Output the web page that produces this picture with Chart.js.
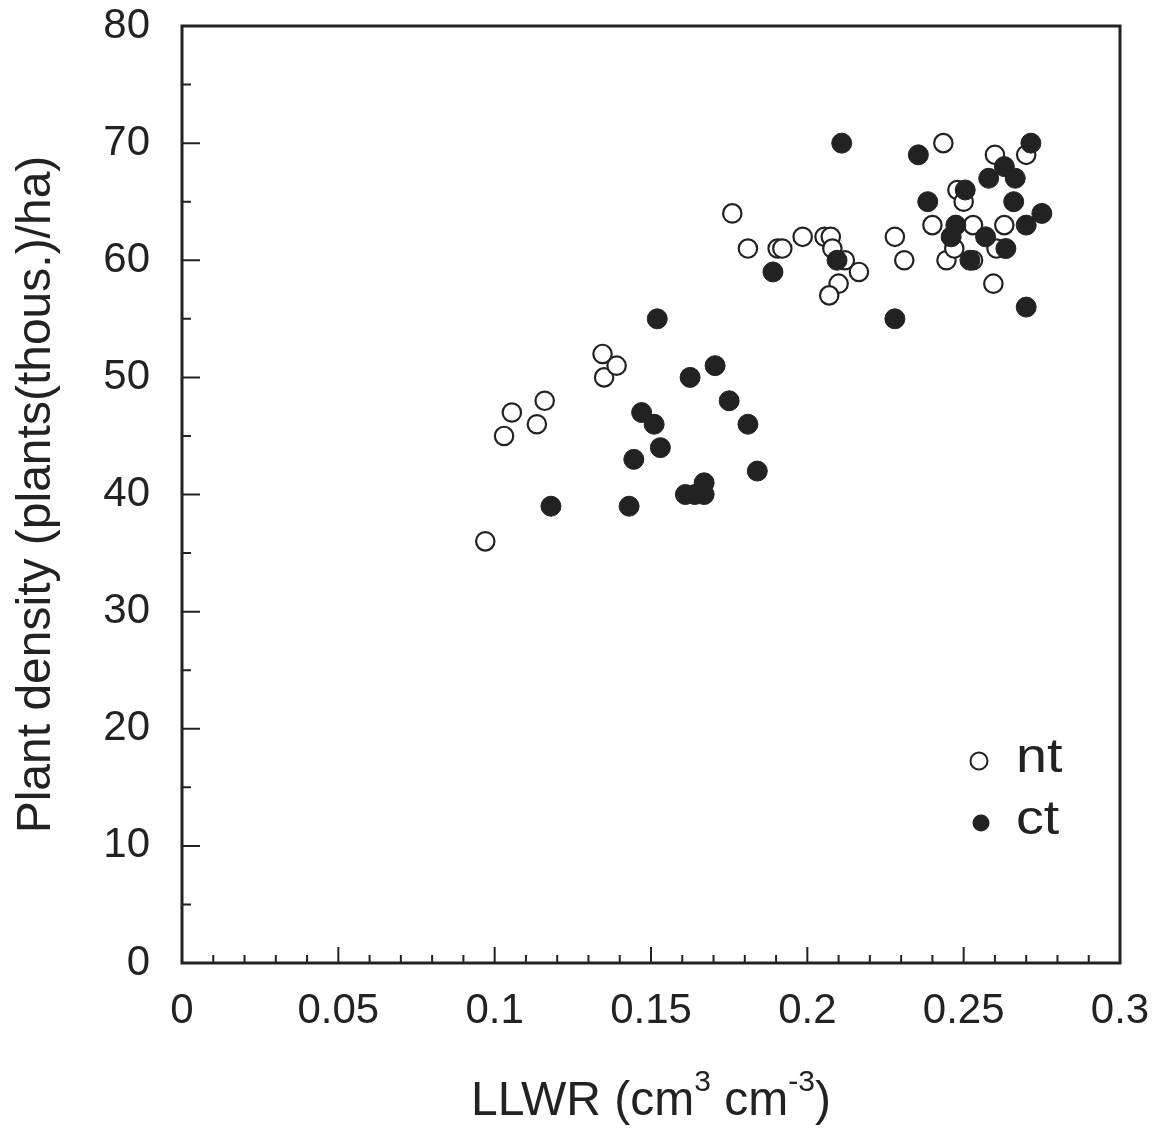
<!DOCTYPE html>
<html>
<head>
<meta charset="utf-8">
<script src="https://cdn.jsdelivr.net/npm/chart.js@4.4.1/dist/chart.umd.min.js"></script>
<style>
  html, body { margin: 0; padding: 0; background: #fff; }
  #wrap { width: 1162px; height: 1130px; position: relative; }
</style>
</head>
<body>
<div id="wrap"><canvas id="scatterChart"></canvas></div>
<script>
// LLWR vs plant density, nt (no-till) and ct (conventional tillage)
const ntX = [0.097, 0.103, 0.1055, 0.1135, 0.116, 0.1345, 0.135, 0.139,
    0.176, 0.181, 0.1905, 0.192, 0.1985, 0.2055, 0.2075, 0.208, 0.212, 0.2165, 0.210, 0.207,
    0.228, 0.231, 0.2435, 0.260, 0.270, 0.248, 0.250, 0.240, 0.253, 0.263,
    0.2445, 0.247, 0.2605, 0.253, 0.2595];
const ntY = [36, 45, 47, 46, 48, 52, 50, 51,
    64, 61, 61, 61, 62, 62, 62, 61, 60, 59, 58, 57,
    62, 60, 70, 69, 69, 66, 65, 63, 63, 63,
    60, 61, 61, 60, 58];

const ctX = [0.118, 0.143, 0.1445, 0.147, 0.151, 0.153, 0.152, 0.1625, 0.1705, 0.175,
    0.181, 0.184, 0.161, 0.164, 0.167, 0.167, 0.189, 0.2095, 0.211, 0.228,
    0.2355, 0.2385, 0.246, 0.2475, 0.2505, 0.252, 0.257, 0.258, 0.2635, 0.263,
    0.2665, 0.266, 0.2715, 0.270, 0.275, 0.270];
const ctY = [39, 39, 43, 47, 46, 44, 55, 50, 51, 48,
    46, 42, 40, 40, 40, 41, 59, 60, 70, 55,
    69, 65, 62, 63, 66, 60, 62, 67, 61, 68,
    67, 65, 70, 63, 64, 56];

const xTicks = [0, 0.05, 0.1, 0.15, 0.2, 0.25, 0.3];
const yTicks = [0, 10, 20, 30, 40, 50, 60, 70, 80];
const legendLabels = ['nt', 'ct'];

const INK = '#222';
const FONT = "'Liberation Sans', Arial, sans-serif";

function toPoints(xs, ys) {
    return xs.map((x, i) => ({ x: x, y: ys[i] }));
}

// frame, inward ticks, x title with superscripts, in-plot legend
const framePlugin = {
    id: 'frame',
    afterDraw(chart) {
        const ctx = chart.ctx;
        const a = chart.chartArea;
        const xs = chart.scales.x, ys = chart.scales.y;
        ctx.save();
        ctx.strokeStyle = INK;
        ctx.lineWidth = 3;
        ctx.strokeRect(a.left, a.top, a.right - a.left, a.bottom - a.top);

        ctx.lineWidth = 2;
        ctx.beginPath();
        for (let i = 1; i < 30; i++) {
            const px = xs.getPixelForValue(i * 0.01);
            const len = (i % 5 === 0) ? 16 : 8;
            ctx.moveTo(px, a.bottom);
            ctx.lineTo(px, a.bottom - len);
        }
        for (let i = 1; i < 16; i++) {
            const py = ys.getPixelForValue(i * 5);
            const len = (i % 2 === 0) ? 18 : 9;
            ctx.moveTo(a.left, py);
            ctx.lineTo(a.left + len, py);
        }
        ctx.stroke();

        // x axis title with real superscripts
        const parts = [['LLWR (cm', 0], ['3', 1], [' cm', 0], ['-3', 1], [')', 0]];
        const base = 1115;
        let w = 0;
        parts.forEach(p => {
            ctx.font = (p[1] ? '30px ' : '48px ') + FONT;
            w += ctx.measureText(p[0]).width;
        });
        ctx.fillStyle = INK;
        ctx.textBaseline = 'alphabetic';
        ctx.textAlign = 'left';
        let cx = (a.left + a.right) / 2 - w / 2;
        parts.forEach(p => {
            ctx.font = (p[1] ? '30px ' : '48px ') + FONT;
            ctx.fillText(p[0], cx, p[1] ? base - 24 : base);
            cx += ctx.measureText(p[0]).width;
        });

        // legend
        const lx = 979;
        const ly = 761;
        const gap = 62;
        ctx.textBaseline = 'middle';
        legendLabels.forEach((lab, i) => {
            const cy = ly + i * gap;
            ctx.beginPath();
            ctx.arc(lx + i * 2, cy, 8.5, 0, Math.PI * 2);
            if (i === 0) {
                ctx.fillStyle = '#fff';
                ctx.fill();
                ctx.lineWidth = 2;
                ctx.strokeStyle = INK;
                ctx.stroke();
            } else {
                ctx.fillStyle = INK;
                ctx.fill();
            }
            ctx.fillStyle = INK;
            ctx.save();
            ctx.translate(lx + 37, cy - 2);
            ctx.scale(1.16, 1);
            ctx.font = '48px ' + FONT;
            ctx.fillText(lab, 0, 0);
            ctx.restore();
        });
        ctx.restore();
    }
};

const ctx = document.getElementById('scatterChart');
new Chart(ctx, {
    type: 'scatter',
    data: {
        datasets: [{
            label: 'ct',
            data: toPoints(ctX, ctY),
            order: 0,
            pointRadius: 10,
            pointBackgroundColor: INK,
            pointBorderColor: INK,
            pointBorderWidth: 1
        }, {
            label: 'nt',
            data: toPoints(ntX, ntY),
            order: 1,
            pointRadius: 9.2,
            pointBackgroundColor: '#fff',
            pointBorderColor: INK,
            pointBorderWidth: 2.2
        }]
    },
    options: {
        responsive: true,
        maintainAspectRatio: false,
        animation: false,
        layout: { padding: { top: 26, right: 42, left: 0, bottom: 0 } },
        scales: {
            x: {
                type: 'linear',
                min: 0, max: 0.3,
                afterBuildTicks: (s) => { s.ticks = xTicks.map(v => ({ value: v })); },
                afterFit: (s) => { s.height = 167; s.paddingLeft = 0; s.paddingRight = 0; },
                grid: { display: false, drawTicks: false },
                border: { display: false },
                ticks: {
                    padding: 23,
                    color: INK,
                    font: { family: FONT, size: 42 },
                    callback: (v) => String(Number(v.toFixed(2)))
                },
                title: { display: false }
            },
            y: {
                min: 0, max: 80,
                afterBuildTicks: (s) => { s.ticks = yTicks.map(v => ({ value: v })); },
                afterFit: (s) => { s.width = 182; s.paddingTop = 0; s.paddingBottom = 0; },
                grid: { display: false, drawTicks: false },
                border: { display: false },
                ticks: {
                    padding: 32,
                    color: INK,
                    font: { family: FONT, size: 42 }
                },
                title: {
                    display: true,
                    text: 'Plant density (plants(thous.)/ha)',
                    color: INK,
                    font: { family: FONT, size: 48 },
                    padding: { top: 8, bottom: 0 }
                }
            }
        },
        plugins: {
            legend: { display: false },
            tooltip: { enabled: false }
        }
    },
    plugins: [framePlugin]
});
</script>
</body>
</html>
